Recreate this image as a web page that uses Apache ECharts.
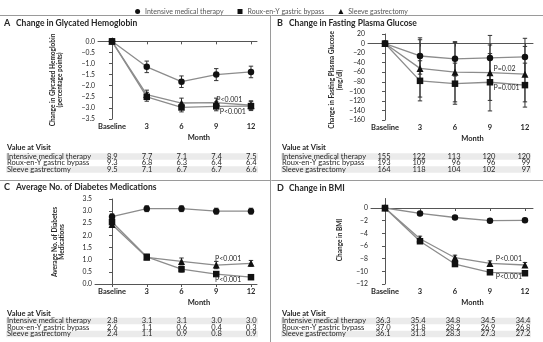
<!DOCTYPE html>
<html><head><meta charset="utf-8">
<script src="https://cdn.jsdelivr.net/npm/echarts@6/dist/echarts.min.js"></script>
<style>html,body{margin:0;padding:0;background:#fff}#chart{width:543px;height:342px}</style>
</head><body><div id="chart"></div>
<script>
// Visits and treatment groups
const months = [0, 3, 6, 9, 12];
const visitLabels = ['Baseline', '3', '6', '9', '12'];
const groups = ['Intensive medical therapy', 'Roux-en-Y gastric bypass', 'Sleeve gastrectomy'];
const groupSymbols = ['circle', 'rect', 'triangle'];

// A: change in glycated hemoglobin (percentage points) with error half-widths
const hba1cMedical = [0, -1.15, -1.82, -1.5, -1.38];
const hba1cBypass = [0, -2.5, -2.98, -2.93, -2.92];
const hba1cSleeve = [0, -2.4, -2.78, -2.76, -2.88];
const hba1cMedicalErr = [0, 0.26, 0.26, 0.27, 0.26];
const hba1cBypassErr = [0, 0.2, 0.2, 0.2, 0.2];
const hba1cSleeveErr = [0, 0.2, 0.22, 0.2, 0.2];
const hba1cMedicalVisit = ['8.9', '7.7', '7.1', '7.4', '7.5'];
const hba1cBypassVisit = ['9.3', '6.8', '6.3', '6.4', '6.4'];
const hba1cSleeveVisit = ['9.5', '7.1', '6.7', '6.7', '6.6'];

// B: change in fasting plasma glucose (mg/dl)
const fpgMedical = [0, -26, -32, -30, -28];
const fpgBypass = [0, -78, -84, -81, -87];
const fpgSleeve = [0, -52, -60, -61, -64];
const fpgMedicalErr = [0, 38, 36, 47, 39];
const fpgBypassErr = [0, 42, 43, 60, 46];
const fpgSleeveErr = [0, 60, 62, 58, 58];
const fpgMedicalVisit = ['155', '122', '113', '120', '120'];
const fpgBypassVisit = ['193', '109', '96', '96', '99'];
const fpgSleeveVisit = ['164', '118', '104', '102', '97'];

// C: average number of diabetes medications
const medsMedical = [2.77, 3.1, 3.1, 3.0, 3.0];
const medsBypass = [2.55, 1.12, 0.61, 0.41, 0.28];
const medsSleeve = [2.45, 1.1, 0.93, 0.78, 0.85];
const medsMedicalErr = [0.12, 0.12, 0.12, 0.12, 0.12];
const medsBypassErr = [0.1, 0.1, 0.12, 0.1, 0.08];
const medsSleeveErr = [0.1, 0.1, 0.14, 0.15, 0.12];
const medsMedicalVisit = ['2.8', '3.1', '3.1', '3.0', '3.0'];
const medsBypassVisit = ['2.6', '1.1', '0.6', '0.4', '0.3'];
const medsSleeveVisit = ['2.4', '1.1', '0.9', '0.8', '0.9'];

// D: change in BMI
const bmiMedical = [0, -0.85, -1.5, -2.0, -1.95];
const bmiBypass = [0, -5.25, -8.85, -10.15, -10.3];
const bmiSleeve = [0, -4.85, -7.85, -8.75, -9.0];
const bmiMedicalErr = [0, 0.3, 0.3, 0.3, 0.3];
const bmiBypassErr = [0, 0.35, 0.35, 0.35, 0.35];
const bmiSleeveErr = [0, 0.4, 0.4, 0.4, 0.4];
const bmiMedicalVisit = ['36.3', '35.4', '34.8', '34.5', '34.4'];
const bmiBypassVisit = ['37.0', '31.8', '28.2', '26.9', '26.8'];
const bmiSleeveVisit = ['36.1', '31.3', '28.3', '27.3', '27.2'];

const FONT = 'Lato, "Open Sans", sans-serif';
const TEXT = '#262626';
const LINE = '#8c8c8c';
const MARK = '#111';
const minus = v => String(v).replace('-', '\u2212');

const panels = [
  { grid: { left: 98, top: 38, width: 159, height: 81 }, x: [-1.21, 12.52],
    y: { min: -3.5, max: 0.15, ticks: [0, -0.5, -1, -1.5, -2, -2.5, -3, -3.5], dec: 1 },
    values: [hba1cMedical, hba1cBypass, hba1cSleeve], errs: [hba1cMedicalErr, hba1cBypassErr, hba1cSleeveErr],
    visits: [hba1cMedicalVisit, hba1cBypassVisit, hba1cSleeveVisit] },
  { grid: { left: 368, top: 34, width: 165, height: 86 }, x: [-1.46, 12.69],
    y: { min: -160, max: 20, ticks: [20, 0, -20, -40, -60, -80, -100, -120, -140, -160], dec: 0 },
    values: [fpgMedical, fpgBypass, fpgSleeve], errs: [fpgMedicalErr, fpgBypassErr, fpgSleeveErr],
    visits: [fpgMedicalVisit, fpgBypassVisit, fpgSleeveVisit] },
  { grid: { left: 95, top: 199, width: 162, height: 85 }, x: [-1.47, 12.52],
    y: { min: 0, max: 3.5, ticks: [0, 0.5, 1, 1.5, 2, 2.5, 3, 3.5], dec: 1 },
    values: [medsMedical, medsBypass, medsSleeve], errs: [medsMedicalErr, medsBypassErr, medsSleeveErr],
    visits: [medsMedicalVisit, medsBypassVisit, medsSleeveVisit] },
  { grid: { left: 371, top: 198.5, width: 162, height: 85.5 }, x: [-1.2, 12.69],
    y: { min: -12, max: 1.5, ticks: [0, -2, -4, -6, -8, -10, -12], dec: 0 },
    values: [bmiMedical, bmiBypass, bmiSleeve], errs: [bmiMedicalErr, bmiBypassErr, bmiSleeveErr],
    visits: [bmiMedicalVisit, bmiBypassVisit, bmiSleeveVisit] }
];
const symbolSizes = [6.5, 6.5, 7];

const grids = [], xAxes = [], yAxes = [], series = [];
panels.forEach((p, i) => {
  grids.push(p.grid);
  xAxes.push({
    type: 'value', gridIndex: i, min: p.x[0], max: p.x[1],
    axisLine: { lineStyle: { color: '#555', width: 1 } },
    axisTick: { show: true, length: 3, customValues: months, lineStyle: { color: '#555' } },
    axisLabel: { customValues: months, margin: 4, fontFamily: FONT, fontSize: 7.5, fontWeight: 'bold', color: TEXT,
      formatter: v => visitLabels[months.indexOf(v)] },
    splitLine: { show: false }
  });
  yAxes.push({
    type: 'value', gridIndex: i, min: p.y.min, max: p.y.max,
    axisLine: { show: true, lineStyle: { color: '#555', width: 1 } },
    axisTick: { show: true, length: 3, customValues: p.y.ticks, lineStyle: { color: '#555' } },
    axisLabel: { customValues: p.y.ticks, margin: 3, fontFamily: FONT, fontSize: 6.8, color: TEXT,
      formatter: v => minus(v.toFixed(p.y.dec)) },
    splitLine: { show: false }
  });
  p.values.forEach((vals, g) => {
    // error bars drawn through the axis scales
    series.push({
      type: 'custom', name: groups[g], xAxisIndex: i, yAxisIndex: i, z: 2, silent: true,
      data: months.map((m, k) => [m, vals[k], p.errs[g][k]]),
      encode: { x: 0, y: 1 },
      renderItem: (params, api) => {
        const x = api.value(0), y = api.value(1), e = api.value(2);
        if (!e) return null;
        const top = api.coord([x, y + e]), bot = api.coord([x, y - e]);
        const st = { stroke: '#333', lineWidth: 1 };
        return { type: 'group', children: [
          { type: 'line', shape: { x1: top[0], y1: top[1], x2: bot[0], y2: bot[1] }, style: st },
          { type: 'line', shape: { x1: top[0] - 2.2, y1: top[1], x2: top[0] + 2.2, y2: top[1] }, style: st },
          { type: 'line', shape: { x1: bot[0] - 2.2, y1: bot[1], x2: bot[0] + 2.2, y2: bot[1] }, style: st }
        ] };
      }
    });
    series.push({
      type: 'line', name: groups[g], xAxisIndex: i, yAxisIndex: i, z: 3,
      data: months.map((m, k) => [m, vals[k]]),
      symbol: groupSymbols[g], symbolSize: symbolSizes[g],
      lineStyle: { color: LINE, width: 1.3 },
      itemStyle: { color: MARK },
      emphasis: { disabled: true }, animation: false
    });
  });
});

const chart = echarts.init(document.getElementById('chart'), null, { renderer: 'canvas' });
chart.setOption({
  animation: false,
  backgroundColor: '#fff',
  legend: {
    top: 3, left: 'center', itemWidth: 5, itemHeight: 5, itemGap: 14,
    textStyle: { fontFamily: FONT, fontSize: 7, color: '#555' },
    data: groups.map((n, g) => ({ name: n, icon: groupSymbols[g], itemStyle: { color: MARK } })),
    selectedMode: false
  },
  grid: grids, xAxis: xAxes, yAxis: yAxes, series: series
});

// Titles, axis captions, visit tables and P values
const gfx = [];
const txt = (x, y, text, o = {}) => gfx.push({
  type: 'text', x, y, rotation: o.rot || 0, silent: true, z: 10,
  style: { text, fontFamily: FONT, fontSize: o.size || 7, fontWeight: o.bold ? 'bold' : 'normal',
    fill: o.color || TEXT, align: o.align || 'left', verticalAlign: 'middle', lineHeight: o.lh || 8 }
});
const rule = (x1, y1, x2, y2) => gfx.push({ type: 'line', silent: true, z: 1,
  shape: { x1, y1, x2, y2 }, style: { stroke: '#9a9a9a', lineWidth: 1 } });

rule(0, 15.5, 543, 15.5);
rule(0, 180.5, 543, 180.5);
rule(270.5, 15.5, 270.5, 342);

const titles = [
  ['A', 'Change in Glycated Hemoglobin', 4, 23],
  ['B', 'Change in Fasting Plasma Glucose', 277, 23],
  ['C', 'Average No. of Diabetes Medications', 4, 187],
  ['D', 'Change in BMI', 277, 188]
];
titles.forEach(t => { txt(t[2], t[3], t[0], { bold: true, size: 9 }); txt(t[2] + 12, t[3], t[1], { bold: true, size: 8.5 }); });

const yCaptions = [
  ['Change in Glycated Hemoglobin\n(percentage points)', 56.5, 80],
  ['Change in Fasting Plasma Glucose\n(mg/dl)', 336, 80],
  ['Average No. of Diabetes\nMedications', 58.5, 242],
  ['Change in BMI', 340, 240]
];
yCaptions.forEach(c => txt(c[1], c[2], c[0], { rot: Math.PI / 2, align: 'center', bold: true, size: 6.5, lh: 7.5 }));

const pNotes = [
  [0, 'P<0.001', 9, -2.63], [0, 'P<0.001', 9.3, -3.18],
  [1, 'P=0.02', 9.3, -53], [1, 'P=0.001', 9.3, -92],
  [2, 'P<0.001', 8.9, 1.05], [2, 'P<0.001', 8.9, 0.18],
  [3, 'P<0.001', 9.5, -8.0], [3, 'P<0.001', 9.5, -10.9]
];
pNotes.forEach(n => {
  const pt = chart.convertToPixel({ gridIndex: n[0] }, [n[2], n[3]]);
  txt(pt[0], pt[1], n[1], { size: 7 });
});

// "Month" captions and visit tables under each panel
const tableRows = [[148, 156.5, 163, 169.5], [148, 156.5, 163, 169.5], [314, 321, 327.5, 334], [314, 321, 327.5, 334]];
panels.forEach((p, i) => {
  const mid = chart.convertToPixel({ gridIndex: i }, [7.5, 0])[0];
  const axisY = p.grid.top + p.grid.height;
  txt(mid, axisY + 19, 'Month', { bold: true, size: 7.5, align: 'center' });
  const left = i % 2 === 0 ? 7 : 282;
  const right = i % 2 === 0 ? 258 : 531;
  const rows = tableRows[i];
  txt(left, rows[0], 'Value at Visit', { bold: true, size: 7.5 });
  [0, 2].forEach(r => gfx.push({ type: 'rect', silent: true, z: 0,
    shape: { x: left - 1, y: rows[r + 1] - 3.3, width: right - left + 1, height: 6.6 },
    style: { fill: '#ebebeb' } }));
  groups.forEach((g, r) => {
    txt(left, rows[r + 1], g, { size: 7.5 });
    p.visits[r].forEach((v, k) => {
      const cx = chart.convertToPixel({ gridIndex: i }, [months[k], 0])[0];
      txt(cx + 5.5, rows[r + 1], v, { size: 7.5, align: 'right' });
    });
  });
});

chart.setOption({ graphic: { elements: gfx } });
</script>
</body></html>
